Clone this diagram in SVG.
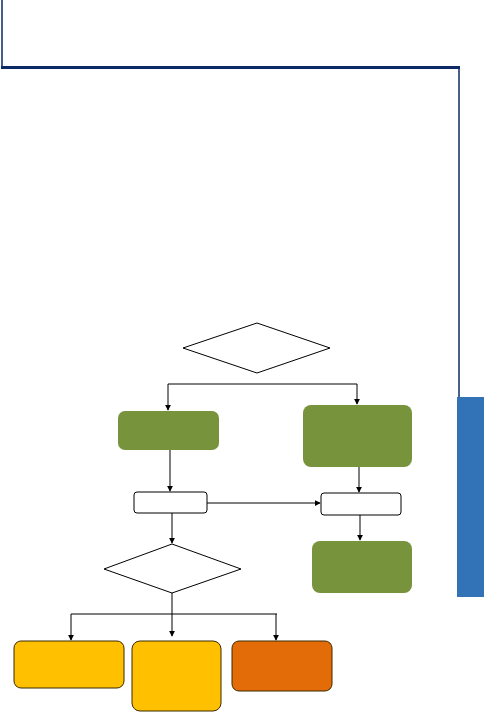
<svg xmlns="http://www.w3.org/2000/svg" width="484" height="712" viewBox="0 0 484 712">
<style>
.frame{stroke:#0b2a66;fill:none}
.c{stroke:#000;stroke-width:1;fill:none}
.dia{fill:#fff;stroke:#000;stroke-width:1}
.small{fill:#fff;stroke:#000;stroke-width:1}
.green{fill:#77933c}
.yellow{fill:#ffc000;stroke:#3a2a00;stroke-width:1}
.orange{fill:#e36c09;stroke:#3a2a00;stroke-width:1}
</style>
<defs>
<marker id="ah" viewBox="0 0 8 8" refX="7" refY="4" markerWidth="6" markerHeight="6" orient="auto" markerUnits="userSpaceOnUse">
<path d="M0,0 L8,4 L0,8 z" fill="#000"/>
</marker>
</defs>
<g id="frame">
<line class="frame" x1="2" y1="0" x2="2" y2="68" stroke-width="1.5"/>
<line class="frame" x1="1" y1="67.5" x2="460" y2="67.5" stroke-width="3"/>
<line class="frame" x1="459" y1="67" x2="459" y2="398" stroke-width="1.5"/>
<rect x="457" y="397" width="27" height="200" fill="#3272b6"/>
</g>
<g id="connectors">
<path class="c" d="M168,384 H357"/>
<path class="c" d="M168,384 V410" marker-end="url(#ah)"/>
<path class="c" d="M357,384 V404" marker-end="url(#ah)"/>
<path class="c" d="M170,450 V491" marker-end="url(#ah)"/>
<path class="c" d="M359,467 V492" marker-end="url(#ah)"/>
<path class="c" d="M207,503 H320" marker-end="url(#ah)"/>
<path class="c" d="M172,513 V543" marker-end="url(#ah)"/>
<path class="c" d="M360,515 V540" marker-end="url(#ah)"/>
<path class="c" d="M172,593 V636" marker-end="url(#ah)"/>
<path class="c" d="M71,614 H277"/>
<path class="c" d="M71,614 V640" marker-end="url(#ah)"/>
<path class="c" d="M276,614 V640" marker-end="url(#ah)"/>
</g>
<g id="decision1"><polygon class="dia" points="257,323 330,348 257,373 183,348"/></g>
<g id="green1"><rect class="green" x="118" y="411" width="101" height="39" rx="7"/></g>
<g id="green2"><rect class="green" x="303" y="405" width="109" height="62" rx="8"/></g>
<g id="box1"><rect class="small" x="134" y="492" width="73" height="21" rx="3"/></g>
<g id="box2"><rect class="small" x="321" y="493" width="80" height="22" rx="3"/></g>
<g id="decision2"><polygon class="dia" points="172,544 241,569 172,593 104,569"/></g>
<g id="green3"><rect class="green" x="312" y="541" width="100" height="52" rx="8"/></g>
<g id="yellow1"><rect class="yellow" x="14" y="641" width="110" height="47" rx="7"/></g>
<g id="yellow2"><rect class="yellow" x="132" y="641" width="89" height="70" rx="8"/></g>
<g id="orange1"><rect class="orange" x="232" y="641" width="100" height="50" rx="7"/></g>
</svg>
